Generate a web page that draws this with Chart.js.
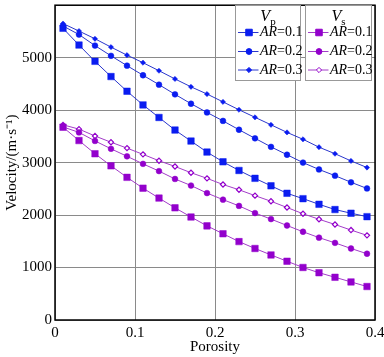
<!DOCTYPE html>
<html lang="en">
<head>
    <meta charset="UTF-8" />
    <title>Velocity vs Porosity</title>
    <script src="https://cdn.jsdelivr.net/npm/chart.js"></script>
    <style>
        body {
            margin: 0;
            background: white;
        }
        .wrap {
            width: 384px;
            height: 357px;
        }
    </style>
</head>
<body>
    <div class="wrap"><canvas id="velChart"></canvas></div>

    <script>
        // porosity sample points
        const porosity = [0.01, 0.03, 0.05, 0.07, 0.09, 0.11, 0.13, 0.15, 0.17, 0.19,
                          0.21, 0.23, 0.25, 0.27, 0.29, 0.31, 0.33, 0.35, 0.37, 0.39];

        // P-wave velocity (m/s)
        const vpAR01 = [5560, 5240, 4930, 4640, 4360, 4100, 3860, 3620, 3410, 3200,
                        3015, 2850, 2700, 2557, 2415, 2313, 2205, 2105, 2035, 1970];
        const vpAR02 = [5605, 5440, 5230, 5035, 4848, 4665, 4485, 4301, 4122, 3956,
                        3795, 3626, 3463, 3300, 3150, 3000, 2869, 2751, 2625, 2507];
        const vpAR03 = [5650, 5507, 5360, 5201, 5048, 4904, 4751, 4594, 4444, 4307,
                        4157, 4007, 3863, 3720, 3576, 3444, 3294, 3169, 3032, 2906];

        // S-wave velocity (m/s)
        const vsAR01 = [3675, 3420, 3169, 2938, 2719, 2513, 2323, 2138, 1963, 1794,
                        1644, 1494, 1363, 1240, 1120, 1001, 901, 814, 726, 638];
        const vsAR02 = [3680, 3576, 3413, 3263, 3120, 2976, 2838, 2688, 2563, 2419,
                        2294, 2175, 2038, 1923, 1801, 1682, 1570, 1470, 1363, 1263];
        const vsAR03 = [3720, 3638, 3507, 3388, 3276, 3157, 3035, 2926, 2807, 2700,
                        2582, 2482, 2370, 2263, 2144, 2025, 1920, 1820, 1714, 1613];

        const arLabels = ["0.1", "0.2", "0.3"];

        const BLUE = "#0a1cf0";
        const BLUE_LINE = "#2a36cc";
        const PURPLE = "#9300cc";
        const PURPLE_LINE = "#a23cc8";
        const SERIF = "'Liberation Serif', 'Times New Roman', serif";

        const markers = [
            { pointStyle: "rect", radius: 4.6 },
            { pointStyle: "circle", radius: 2.9 },
            { pointStyle: "rectRot", radius: 2.6 }
        ];

        function makeSet(values, idx, color, lineColor, hollow) {
            return {
                data: values.map((v, i) => ({ x: porosity[i], y: v })),
                borderColor: lineColor,
                borderWidth: 1,
                pointStyle: markers[idx].pointStyle,
                pointRadius: markers[idx].radius,
                pointBackgroundColor: hollow ? "#ffffff" : color,
                pointBorderColor: color,
                pointBorderWidth: hollow ? 1.2 : 0.5,
                tension: 0
            };
        }

        const datasets = [
            makeSet(vpAR01, 0, BLUE, BLUE_LINE, false),
            makeSet(vpAR02, 1, BLUE, BLUE_LINE, false),
            makeSet(vpAR03, 2, BLUE, BLUE_LINE, false),
            makeSet(vsAR01, 0, PURPLE, PURPLE_LINE, false),
            makeSet(vsAR02, 1, PURPLE, PURPLE_LINE, false),
            makeSet(vsAR03, 2, PURPLE, PURPLE_LINE, true)
        ];

        // draws the box frame plus the two legend panels
        const framePlugin = {
            id: "frameAndLegend",
            afterDraw(chart) {
                const ctx = chart.ctx;
                const a = chart.chartArea;
                ctx.save();
                ctx.strokeStyle = "#000";
                ctx.lineWidth = 1.5;
                ctx.strokeRect(a.left, a.top, a.right - a.left, a.bottom - a.top);

                drawPanel(ctx, 235.5, 5.5, 65, 75, "p", BLUE, BLUE_LINE, false);
                drawPanel(ctx, 305.5, 5.5, 66, 75, "s", PURPLE, PURPLE_LINE, true);
                ctx.restore();
            }
        };

        function drawPanel(ctx, x, y, w, h, sub, color, lineColor, lastHollow) {
            ctx.fillStyle = "#fff";
            ctx.fillRect(x, y, w, h);
            ctx.strokeStyle = "#999";
            ctx.lineWidth = 1;
            ctx.strokeRect(x, y, w, h);

            // heading V with subscript
            ctx.fillStyle = "#000";
            ctx.textBaseline = "alphabetic";
            ctx.font = "italic 16px " + SERIF;
            const vw = ctx.measureText("V").width;
            ctx.font = "11px " + SERIF;
            const sw = ctx.measureText(sub).width;
            const hx = x + w / 2 - (vw + sw) / 2;
            ctx.font = "italic 16px " + SERIF;
            ctx.fillText("V", hx, y + 15.5);
            ctx.font = "11px " + SERIF;
            ctx.fillText(sub, hx + vw, y + 19);

            const rows = [y + 27, y + 46, y + 64.5];
            rows.forEach((ry, i) => {
                ctx.strokeStyle = lineColor;
                ctx.lineWidth = 1;
                ctx.beginPath();
                ctx.moveTo(x + 2.5, ry);
                ctx.lineTo(x + 23, ry);
                ctx.stroke();

                const hollow = lastHollow && i === 2;
                ctx.fillStyle = hollow ? "#fff" : color;
                ctx.strokeStyle = color;
                Chart.helpers.drawPoint(ctx, {
                    pointStyle: markers[i].pointStyle,
                    radius: markers[i].radius,
                    rotation: 0,
                    borderWidth: hollow ? 1.2 : 0.5
                }, x + 13.5, ry);

                ctx.fillStyle = "#000";
                ctx.textBaseline = "middle";
                ctx.font = "italic 14px " + SERIF;
                ctx.fillText("AR", x + 24.5, ry);
                const aw = ctx.measureText("AR").width;
                ctx.font = "14px " + SERIF;
                ctx.fillText("=" + arLabels[i], x + 24.5 + aw, ry);
            });
        }

        new Chart(document.getElementById("velChart"), {
            type: "line",
            data: { datasets: datasets },
            plugins: [framePlugin],
            options: {
                responsive: true,
                maintainAspectRatio: false,
                animation: false,
                layout: { padding: { top: 1.5, right: 9, left: 0, bottom: 0 } },
                plugins: {
                    legend: { display: false },
                    tooltip: { enabled: false }
                },
                scales: {
                    x: {
                        type: "linear",
                        min: 0,
                        max: 0.4,
                        afterFit: (s) => {
                            s.height = 37;
                            s.paddingLeft = 0;
                            s.paddingRight = 0;
                        },
                        ticks: {
                            stepSize: 0.1,
                            padding: 4,
                            color: "#000",
                            font: { family: SERIF, size: 15 },
                            callback: (v) => String(Math.round(v * 10) / 10)
                        },
                        grid: { color: "#8a8a8a", lineWidth: 1, drawTicks: false },
                        border: { display: false },
                        title: {
                            display: true,
                            text: "Porosity",
                            color: "#000",
                            font: { family: SERIF, size: 15 },
                            padding: { top: 0, bottom: 1 }
                        }
                    },
                    y: {
                        min: 0,
                        max: 6000,
                        afterFit: (s) => {
                            s.width = 55;
                            s.paddingTop = 0;
                            s.paddingBottom = 0;
                        },
                        ticks: {
                            stepSize: 1000,
                            padding: 3,
                            color: "#000",
                            font: { family: SERIF, size: 15 },
                            callback: (v) => (v === 6000 ? "" : v)
                        },
                        grid: { color: "#8a8a8a", lineWidth: 1, drawTicks: false },
                        border: { display: false },
                        title: {
                            display: true,
                            text: "Velocity/(m·s⁻¹)",
                            color: "#000",
                            font: { family: SERIF, size: 15 },
                            padding: { top: 3, bottom: 0 }
                        }
                    }
                }
            }
        });
    </script>
</body>
</html>
